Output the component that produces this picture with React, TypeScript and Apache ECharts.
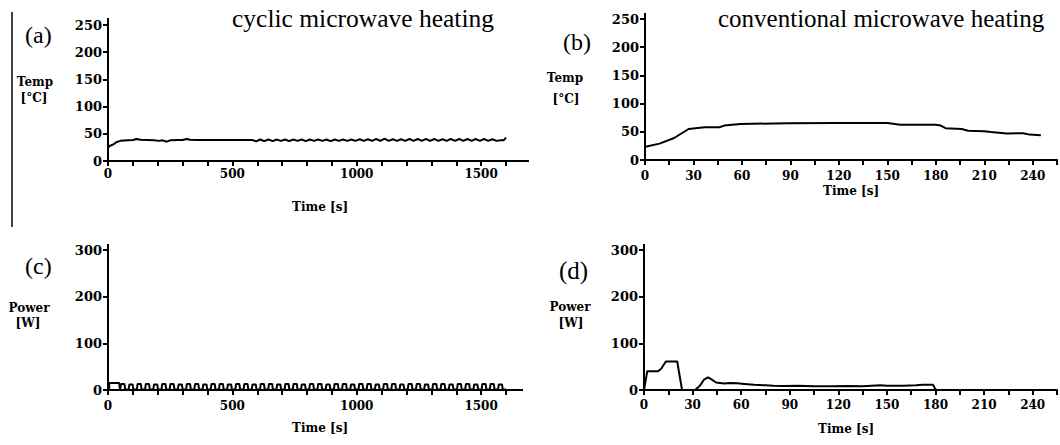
import React, { useEffect, useRef } from "react";
import * as echarts from "echarts";

// ---------- tick steps and label steps ----------
const cyclicTimeTickStep = 100;
const cyclicTimeLabelStep = 500;
const cyclicTimeMax = 1600;
const convTimeTickStep = 15;
const convTimeLabelStep = 30;
const convTimeMax = 255;
const tempTickStep = 50;
const tempMax = 250;
const powerTickStep = 100;
const powerMax = 300;

// ---------- (a) cyclic microwave heating: temperature [s, °C] ----------
const tempCyclic = [
  [0, 24], [8, 28], [20, 30], [35, 35], [50, 37], [80, 38], [100, 38.5], [115, 40.5], [130, 39],
  [160, 38.5], [185, 38], [205, 37], [220, 38], [236, 35.5], [250, 38], [280, 38.5], [300, 38.5],
  [316, 40.5], [330, 39], [360, 38.5], [400, 38.5], [440, 38.5], [480, 38.5], [520, 38.5], [560, 38.5],
  [580, 38.5], [596, 36], [612, 39.5], [628, 36.5], [645, 39.5], [662, 36.5], [678, 39.5], [695, 37],
  [712, 39.5], [728, 36.5], [745, 39.5], [762, 37], [778, 39.5], [795, 36.5], [812, 39.5], [828, 37],
  [845, 39.5], [862, 37], [878, 39.5], [895, 36.5], [912, 39.5], [928, 37], [945, 39.5], [962, 37],
  [978, 39.5], [995, 37], [1012, 40], [1028, 37], [1045, 40], [1062, 37], [1078, 40.5], [1095, 37],
  [1112, 41], [1128, 37], [1145, 40], [1162, 37], [1178, 40], [1195, 37], [1212, 40.5], [1228, 37],
  [1245, 40.5], [1262, 37], [1278, 40.5], [1295, 37], [1312, 40.5], [1328, 37], [1345, 40], [1362, 37],
  [1378, 40.5], [1395, 37], [1412, 40.5], [1428, 37], [1445, 40.5], [1462, 37], [1478, 40.5], [1495, 37],
  [1512, 40.5], [1528, 37], [1545, 40], [1562, 37], [1578, 38], [1590, 38], [1600, 43],
];

// ---------- (b) conventional microwave heating: temperature [s, °C] ----------
const tempConv = [
  [0, 23], [1, 24], [9, 29], [18, 39], [27, 55], [37, 58], [46, 58], [49, 61], [59, 64], [88, 65],
  [118, 65.5], [150, 65.5], [158, 62.5], [180, 62.5], [183, 61], [186, 56.5], [196, 55], [200, 52],
  [210, 51], [214, 49.5], [224, 47], [234, 47.5], [238, 45], [245, 44],
];

// ---------- (c) cyclic microwave heating: power [s, W] ----------
const powerCyclic = [
  [0, 0], [5, 0], [5, 15], [45, 15], [48, 1],
  [50, 1], [53, 13], [66, 13], [69, 1],
  [83, 1], [86, 12], [99, 12], [102, 1],
  [116, 1], [119, 13], [132, 13], [135, 1],
  [149, 1], [152, 13], [165, 13], [168, 1],
  [182, 1], [185, 12], [198, 12], [201, 1],
  [215, 1], [218, 13], [231, 13], [234, 1],
  [248, 1], [251, 13], [264, 13], [267, 1],
  [281, 1], [284, 12], [297, 12], [300, 1],
  [314, 1], [317, 13], [330, 13], [333, 1],
  [347, 1], [350, 13], [363, 13], [366, 1],
  [380, 1], [383, 12], [396, 12], [399, 1],
  [413, 1], [416, 13], [429, 13], [432, 1],
  [446, 1], [449, 13], [462, 13], [465, 1],
  [479, 1], [482, 12], [495, 12], [498, 1],
  [512, 1], [515, 13], [528, 13], [531, 1],
  [545, 1], [548, 13], [561, 13], [564, 1],
  [578, 1], [581, 12], [594, 12], [597, 1],
  [611, 1], [614, 13], [627, 13], [630, 1],
  [644, 1], [647, 13], [660, 13], [663, 1],
  [677, 1], [680, 12], [693, 12], [696, 1],
  [710, 1], [713, 13], [726, 13], [729, 1],
  [743, 1], [746, 13], [759, 13], [762, 1],
  [776, 1], [779, 12], [792, 12], [795, 1],
  [809, 1], [812, 13], [825, 13], [828, 1],
  [842, 1], [845, 13], [858, 13], [861, 1],
  [875, 1], [878, 12], [891, 12], [894, 1],
  [908, 1], [911, 13], [924, 13], [927, 1],
  [941, 1], [944, 13], [957, 13], [960, 1],
  [974, 1], [977, 12], [990, 12], [993, 1],
  [1007, 1], [1010, 13], [1023, 13], [1026, 1],
  [1040, 1], [1043, 13], [1056, 13], [1059, 1],
  [1073, 1], [1076, 12], [1089, 12], [1092, 1],
  [1106, 1], [1109, 13], [1122, 13], [1125, 1],
  [1139, 1], [1142, 13], [1155, 13], [1158, 1],
  [1172, 1], [1175, 12], [1188, 12], [1191, 1],
  [1205, 1], [1208, 13], [1221, 13], [1224, 1],
  [1238, 1], [1241, 13], [1254, 13], [1257, 1],
  [1271, 1], [1274, 12], [1287, 12], [1290, 1],
  [1304, 1], [1307, 13], [1320, 13], [1323, 1],
  [1337, 1], [1340, 13], [1353, 13], [1356, 1],
  [1370, 1], [1373, 12], [1386, 12], [1389, 1],
  [1403, 1], [1406, 13], [1419, 13], [1422, 1],
  [1436, 1], [1439, 13], [1452, 13], [1455, 1],
  [1469, 1], [1472, 12], [1485, 12], [1488, 1],
  [1502, 1], [1505, 13], [1518, 13], [1521, 1],
  [1535, 1], [1538, 13], [1551, 13], [1554, 1],
  [1568, 1], [1571, 12], [1584, 12], [1587, 1],
  [1600, 1],
];

// ---------- (d) conventional microwave heating: power [s, W] ----------
const powerConv = [
  [0, 0], [2, 40], [8.5, 40], [10.5, 45], [13.5, 61], [20.5, 61], [23.5, 0], [31.5, 0], [34.5, 9],
  [37, 22], [39.5, 27], [42, 22], [44.5, 16], [49.5, 14], [53, 15], [57.5, 14.5], [62, 13], [68, 11],
  [75, 10], [80, 9], [86, 8.5], [95, 9], [105, 8], [116, 8], [125, 8.5], [135, 8], [146, 10],
  [150, 9], [160, 9], [168, 10], [172, 11], [178.5, 11], [180, 1], [181, 0], [252, 0],
];

const FONT_AXIS = "DejaVu Serif";
const FONT_TITLE = "Liberation Serif";

const AXIS_COLOR = "#000";

function xAxisCfg(gridIndex: number, max: number, tickStep: number, labelStep: number, margin: number) {
  return {
    type: "value",
    gridIndex,
    min: 0,
    max,
    interval: tickStep,
    axisLine: { show: true, onZero: false, lineStyle: { color: AXIS_COLOR, width: 2 } },
    axisTick: { show: true, inside: false, length: 5, lineStyle: { color: AXIS_COLOR, width: 2 } },
    axisLabel: {
      formatter: (v: number) => (v % labelStep === 0 ? String(v) : ""),
      showMaxLabel: true,
      showMinLabel: true,
      color: "#000",
      fontFamily: FONT_AXIS,
      fontWeight: "bold",
      fontSize: 12,
      margin,
    },
    splitLine: { show: false },
  };
}

function yAxisCfg(gridIndex: number, max: number, tickStep: number) {
  return {
    type: "value",
    gridIndex,
    min: 0,
    max,
    interval: tickStep,
    axisLine: { show: true, onZero: false, lineStyle: { color: AXIS_COLOR, width: 2 } },
    axisTick: { show: true, inside: false, length: 5, lineStyle: { color: AXIS_COLOR, width: 2 } },
    axisLabel: {
      formatter: (v: number) => String(v),
      color: "#000",
      fontFamily: FONT_AXIS,
      fontWeight: "bold",
      fontSize: 13,
      margin: 6,
      padding: [6, 0, 0, 0],
    },
    splitLine: { show: false },
  };
}

function txt(text: string, x: number, y: number, size: number, family: string, bold: boolean, align = "center") {
  return {
    type: "text",
    x,
    y,
    style: {
      text,
      fill: "#000",
      fontSize: size,
      fontFamily: family,
      fontWeight: bold ? "bold" : "normal",
      align,
      verticalAlign: "middle",
    },
  };
}

function axisExt(x1: number, y1: number, x2: number, y2: number) {
  return { type: "line", shape: { x1, y1, x2, y2 }, style: { stroke: AXIS_COLOR, lineWidth: 2 } };
}

function lineSeries(data: number[][], idx: number) {
  return {
    type: "line",
    xAxisIndex: idx,
    yAxisIndex: idx,
    data,
    symbol: "none",
    showSymbol: false,
    lineStyle: { color: "#000", width: 2 },
    clip: true,
  };
}

export default function App() {
  const ref = useRef<HTMLDivElement>(null);
  useEffect(() => {
    if (!ref.current) return;
    const chart = echarts.init(ref.current, undefined, { renderer: "svg" });
    chart.setOption({
      animation: false,
      backgroundColor: "#fff",
      grid: [
        { left: 108, top: 25, width: 398, height: 136 },
        { left: 645, top: 19, width: 422, height: 141 },
        { left: 108, top: 250, width: 398, height: 140 },
        { left: 644, top: 250, width: 422, height: 140 },
      ],
      xAxis: [
        xAxisCfg(0, cyclicTimeMax, cyclicTimeTickStep, cyclicTimeLabelStep, 7),
        xAxisCfg(1, convTimeMax, convTimeTickStep, convTimeLabelStep, 10),
        xAxisCfg(2, cyclicTimeMax, cyclicTimeTickStep, cyclicTimeLabelStep, 10),
        xAxisCfg(3, convTimeMax, convTimeTickStep, convTimeLabelStep, 9),
      ],
      yAxis: [
        yAxisCfg(0, tempMax, tempTickStep),
        yAxisCfg(1, tempMax, tempTickStep),
        yAxisCfg(2, powerMax, powerTickStep),
        yAxisCfg(3, powerMax, powerTickStep),
      ],
      series: [
        lineSeries(tempCyclic, 0),
        lineSeries(tempConv, 1),
        lineSeries(powerCyclic, 2),
        lineSeries(powerConv, 3),
      ],
      graphic: [
        { type: "line", shape: { x1: 12, y1: 12, x2: 12, y2: 227 }, style: { stroke: "#000", lineWidth: 1.5 } },
        // axis lines continue a little past the last tick, as in the original figure
        axisExt(500, 161, 529, 161),
        axisExt(108, 18, 108, 30),
        axisExt(645, 13, 645, 24),
        axisExt(500, 390, 523, 390),
        axisExt(108, 244, 108, 255),
        axisExt(644, 244, 644, 255),
        txt("cyclic microwave heating", 232, 18, 25.5, FONT_TITLE, false, "left"),
        txt("conventional microwave heating", 718, 18, 25, FONT_TITLE, false, "left"),
        txt("(a)", 25, 35, 24, FONT_TITLE, false, "left"),
        txt("(b)", 563, 42, 24, FONT_TITLE, false, "left"),
        txt("(c)", 25, 266, 24, FONT_TITLE, false, "left"),
        txt("(d)", 559, 270, 25, FONT_TITLE, false, "left"),
        txt("Temp", 35, 82, 12, FONT_AXIS, true),
        txt("[°C]", 34, 98, 12, FONT_AXIS, true),
        txt("Temp", 565, 78, 12, FONT_AXIS, true),
        txt("[°C]", 566, 99, 12, FONT_AXIS, true),
        txt("Power", 29, 308, 12, FONT_AXIS, true),
        txt("[W]", 28, 323, 12, FONT_AXIS, true),
        txt("Power", 570, 307, 12, FONT_AXIS, true),
        txt("[W]", 571, 323, 12, FONT_AXIS, true),
        txt("Time [s]", 320, 207, 12, FONT_AXIS, true),
        txt("Time [s]", 851, 191, 12, FONT_AXIS, true),
        txt("Time [s]", 320, 428, 12, FONT_AXIS, true),
        txt("Time [s]", 846, 429, 12, FONT_AXIS, true),
      ],
    });
    return () => chart.dispose();
  }, []);
  return (
    <div
      ref={ref}
      style={{ position: "absolute", left: 0, top: 0, width: 1060, height: 445, background: "#fff" }}
    />
  );
}
